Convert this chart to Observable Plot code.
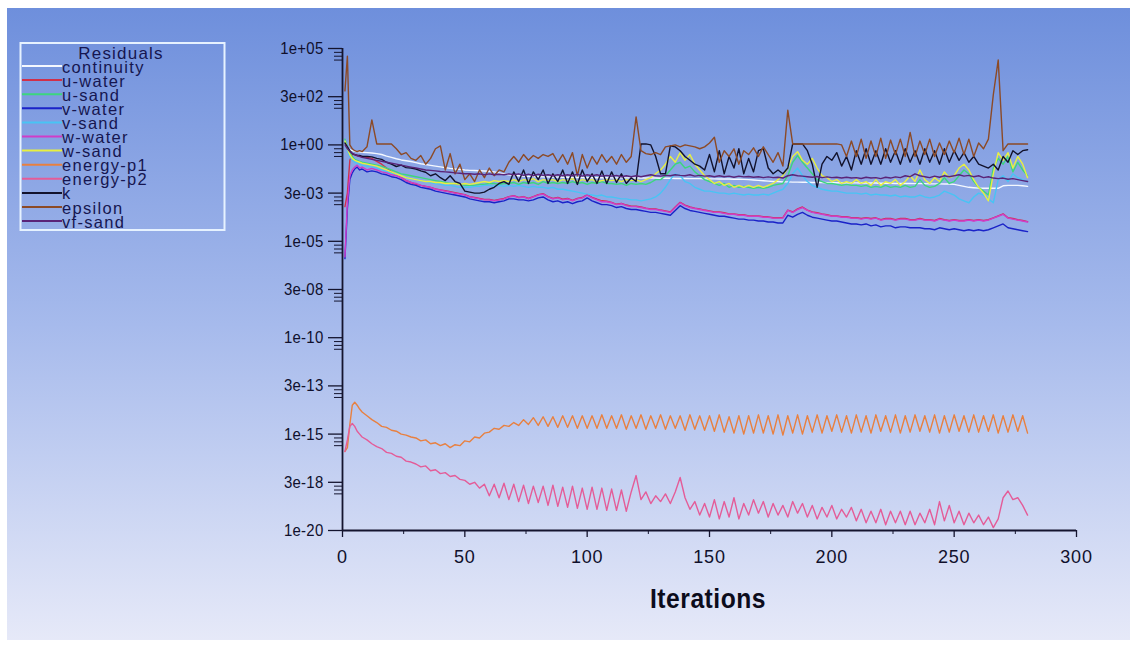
<!DOCTYPE html>
<html><head><meta charset="utf-8">
<script src="https://cdn.jsdelivr.net/npm/d3@7"></script>
<script src="https://cdn.jsdelivr.net/npm/@observablehq/plot@0.6"></script>
<style>
html,body{margin:0;padding:0;background:#fff;}
#page{position:relative;width:1137px;height:646px;overflow:hidden;background:#fff;}
#panel{position:absolute;left:7px;top:8px;width:1123px;height:632px;
  background:linear-gradient(to bottom,#6e8fdc 0%,#a6baec 50%,#e6e9f8 100%);}
#chart{position:absolute;left:0;top:0;}
#overlay{position:absolute;left:0;top:0;}
#chart g[aria-label="y-axis tick label"] text{font-family:"Liberation Sans",Arial,sans-serif;font-size:17px;letter-spacing:0.3px;fill:#10102c;}
#chart g[aria-label="x-axis tick label"] text{font-family:"Liberation Sans",Arial,sans-serif;font-size:18px;letter-spacing:0.8px;fill:#10102c;}
</style>
</head><body>
<div id="page"><div id="panel"></div><div id="chart"></div><svg id="overlay" width="1137" height="646"></svg></div>
<script>
// ---- iterations (x categories) ----
const iterations = [1,2,3,4,5,6,7,8].concat(d3.range(10, 281, 2));

// ---- series names / colours (legend order) ----
const seriesNames = ["continuity","u-water","u-sand","v-water","v-sand","w-water","w-sand","energy-p1","energy-p2","k","epsilon","vf-sand"];
const seriesColors = ["#f4f8ff","#d0304a","#3cd67e","#1a22c8","#48c4f4","#d03cc8","#e8f040","#e88040","#e45c98","#12122c","#8c4a26","#5a2478"];

// ---- residuals, as log10 exponents, per iteration ----
const continuity = [0.0,-0.15,-0.25,-0.3,-0.33,-0.35,-0.36,-0.38,
 -0.4,-0.42,-0.45,-0.5,-0.58,-0.65,-0.72,-0.78,-0.82,-0.86,
 -0.92,-0.98,-1.02,-1.06,-1.1,-1.14,-1.18,-1.22,-1.25,-1.27,
 -1.3,-1.32,-1.33,-1.34,-1.35,-1.37,-1.4,-1.45,-1.5,-1.55,
 -1.58,-1.6,-1.62,-1.63,-1.64,-1.65,-1.66,-1.66,-1.67,-1.67,
 -1.68,-1.68,-1.68,-1.69,-1.69,-1.7,-1.7,-1.7,-1.7,-1.7,
 -1.71,-1.71,-1.71,-1.71,-1.71,-1.72,-1.72,-1.72,-1.72,-1.72,
 -1.73,-1.73,-1.73,-1.74,-1.74,-1.74,-1.75,-1.75,-1.75,-1.76,
 -1.76,-1.76,-1.77,-1.77,-1.77,-1.78,-1.78,-1.79,-1.8,-1.82,
 -1.84,-1.86,-1.88,-1.9,-1.9,-1.92,-1.92,-1.93,-1.93,-1.94,
 -1.94,-1.95,-1.95,-1.95,-1.96,-1.96,-1.96,-1.97,-1.97,-1.97,
 -1.97,-1.98,-1.98,-1.98,-1.98,-1.99,-1.99,-1.99,-2.0,-2.0,
 -2.0,-2.0,-2.01,-2.01,-2.01,-2.02,-2.02,-2.02,-2.03,-2.03,
 -2.05,-2.1,-2.15,-2.2,-2.22,-2.24,-2.25,-2.25,-2.25,-2.25,
 -2.12,-2.1,-2.1,-2.1,-2.12,-2.15];

const uWater = [-3.2,-2.5,-0.8,-0.5,-0.5,-0.55,-0.6,-0.6,
 -0.65,-0.7,-0.85,-1.0,-1.2,-1.4,-1.55,-1.7,-1.85,-1.95,
 -2.05,-2.1,-2.15,-2.2,-2.28,-2.33,-2.38,-2.43,-2.48,-2.53,
 -2.58,-2.68,-2.73,-2.78,-2.83,-2.83,-2.88,-2.83,-2.78,-2.68,
 -2.63,-2.72,-2.68,-2.78,-2.68,-2.58,-2.53,-2.68,-2.78,-2.72,
 -2.82,-2.78,-2.88,-2.78,-2.73,-2.58,-2.72,-2.82,-2.9,-2.92,
 -2.98,-3.08,-3.03,-3.12,-3.18,-3.18,-3.22,-3.28,-3.32,-3.32,
 -3.38,-3.42,-3.48,-3.22,-2.98,-3.12,-3.22,-3.28,-3.32,-3.38,
 -3.42,-3.48,-3.48,-3.52,-3.58,-3.58,-3.62,-3.62,-3.68,-3.68,
 -3.68,-3.72,-3.73,-3.78,-3.78,-3.77,-3.38,-3.48,-3.32,-3.22,
 -3.38,-3.48,-3.52,-3.58,-3.62,-3.68,-3.68,-3.72,-3.72,-3.78,
 -3.78,-3.82,-3.78,-3.82,-3.78,-3.88,-3.82,-3.82,-3.88,-3.82,
 -3.82,-3.88,-3.88,-3.82,-3.88,-3.88,-3.92,-3.82,-3.88,-3.92,
 -3.88,-3.92,-3.92,-3.88,-3.92,-3.88,-3.92,-3.88,-3.78,-3.68,
 -3.58,-3.78,-3.82,-3.88,-3.92,-3.98];

const uSand = [0.3,-0.1,-0.4,-0.6,-0.75,-0.8,-0.85,-0.9,
 -0.95,-1.0,-1.05,-1.1,-1.2,-1.3,-1.4,-1.5,-1.55,-1.6,
 -1.65,-1.7,-1.75,-1.8,-1.85,-1.9,-1.95,-2.0,-2.0,-2.05,
 -2.1,-2.1,-2.1,-2.05,-2.05,-2.0,-2.0,-2.05,-2.0,-2.0,
 -1.95,-2.05,-1.95,-2.0,-1.95,-2.05,-1.9,-2.0,-1.95,-2.0,
 -1.95,-2.0,-1.9,-2.0,-1.95,-2.05,-1.95,-2.0,-1.9,-2.0,
 -2.0,-2.05,-2.0,-2.1,-2.0,-2.05,-2.0,-2.05,-1.95,-1.8,
 -1.8,-1.6,-1.3,-1.0,-0.9,-1.2,-1.1,-1.4,-1.6,-1.8,
 -1.9,-2.0,-2.1,-2.0,-2.2,-2.1,-2.2,-2.15,-2.2,-2.25,
 -2.2,-2.25,-2.2,-2.1,-2.05,-2.0,-1.6,-0.9,-0.55,-0.9,
 -1.2,-1.5,-1.8,-1.9,-2.0,-2.0,-2.05,-2.1,-2.05,-2.1,
 -2.1,-2.15,-2.1,-2.2,-2.15,-2.2,-2.1,-2.2,-2.15,-2.2,
 -2.1,-2.2,-2.15,-1.8,-2.1,-2.2,-2.15,-2.0,-1.7,-2.0,
 -1.9,-1.6,-1.3,-1.5,-1.9,-2.2,-2.4,-2.6,-1.2,-0.7,
 -1.0,-0.6,-1.4,-0.9,-1.3,-1.6];

const vWater = [-5.9,-3.3,-1.8,-1.45,-1.25,-1.15,-1.3,-1.25,
 -1.4,-1.35,-1.4,-1.5,-1.55,-1.65,-1.7,-1.8,-1.95,-2.05,
 -2.1,-2.2,-2.25,-2.3,-2.4,-2.45,-2.5,-2.55,-2.6,-2.65,
 -2.7,-2.8,-2.85,-2.9,-2.95,-2.95,-3.0,-2.95,-2.9,-2.8,
 -2.8,-2.85,-2.85,-2.9,-2.85,-2.75,-2.7,-2.85,-2.95,-2.9,
 -3.0,-2.95,-3.05,-2.95,-2.9,-2.75,-2.9,-3.0,-3.1,-3.1,
 -3.15,-3.25,-3.2,-3.3,-3.35,-3.35,-3.4,-3.45,-3.5,-3.5,
 -3.55,-3.6,-3.65,-3.4,-3.15,-3.3,-3.4,-3.45,-3.5,-3.55,
 -3.6,-3.65,-3.7,-3.7,-3.75,-3.8,-3.85,-3.85,-3.9,-3.9,
 -3.95,-3.95,-4.0,-4.0,-4.05,-4.05,-3.65,-3.75,-3.6,-3.5,
 -3.65,-3.75,-3.8,-3.85,-3.9,-3.95,-3.95,-4.0,-4.05,-4.1,
 -4.1,-4.15,-4.1,-4.2,-4.15,-4.25,-4.2,-4.2,-4.3,-4.25,
 -4.25,-4.3,-4.3,-4.3,-4.35,-4.35,-4.4,-4.3,-4.35,-4.4,
 -4.35,-4.4,-4.45,-4.4,-4.45,-4.4,-4.45,-4.4,-4.3,-4.2,
 -4.1,-4.3,-4.35,-4.4,-4.45,-4.5];

const vSand = [0.2,-0.3,-0.6,-0.8,-0.9,-0.95,-1.0,-1.05,
 -1.1,-1.15,-1.2,-1.3,-1.4,-1.45,-1.55,-1.6,-1.7,-1.75,
 -1.8,-1.85,-1.9,-1.95,-2.0,-2.05,-2.1,-2.1,-2.15,-2.2,
 -2.2,-2.2,-2.15,-2.15,-2.1,-2.1,-2.15,-2.1,-2.15,-2.1,
 -2.15,-2.1,-2.15,-2.2,-2.15,-2.2,-2.2,-2.25,-2.2,-2.3,
 -2.3,-2.35,-2.4,-2.45,-2.5,-2.55,-2.6,-2.65,-2.6,-2.7,
 -2.7,-2.75,-2.8,-2.8,-2.85,-2.85,-2.9,-2.85,-2.8,-2.7,
 -2.5,-2.2,-1.8,-1.5,-1.6,-1.9,-2.0,-2.2,-2.3,-2.4,
 -2.4,-2.45,-2.5,-2.5,-2.55,-2.5,-2.55,-2.6,-2.55,-2.6,
 -2.6,-2.55,-2.6,-2.5,-2.4,-2.3,-2.0,-1.5,-1.2,-1.6,
 -1.9,-2.1,-2.2,-2.3,-2.35,-2.4,-2.4,-2.45,-2.5,-2.5,
 -2.5,-2.55,-2.5,-2.6,-2.55,-2.6,-2.6,-2.65,-2.6,-2.7,
 -2.65,-2.7,-2.7,-2.6,-2.7,-2.75,-2.7,-2.6,-2.4,-2.5,
 -2.6,-2.8,-2.9,-3.0,-2.7,-2.5,-2.6,-2.8,-3.0,-1.8,
 -1.6,-1.9,-1.5,-1.7,-1.8,-1.9];

const wWater = [-5.8,-3.0,-1.6,-1.3,-1.15,-1.05,-1.2,-1.15,
 -1.3,-1.22,-1.3,-1.4,-1.45,-1.55,-1.6,-1.7,-1.85,-1.95,
 -2.0,-2.1,-2.15,-2.2,-2.3,-2.35,-2.4,-2.45,-2.5,-2.55,
 -2.6,-2.7,-2.75,-2.8,-2.85,-2.85,-2.9,-2.85,-2.8,-2.7,
 -2.65,-2.75,-2.7,-2.8,-2.7,-2.6,-2.55,-2.7,-2.8,-2.75,
 -2.85,-2.8,-2.9,-2.8,-2.75,-2.6,-2.75,-2.85,-2.95,-2.95,
 -3.0,-3.1,-3.05,-3.15,-3.2,-3.2,-3.25,-3.3,-3.35,-3.35,
 -3.4,-3.45,-3.5,-3.25,-3.0,-3.15,-3.25,-3.3,-3.35,-3.4,
 -3.45,-3.5,-3.5,-3.55,-3.6,-3.6,-3.65,-3.65,-3.7,-3.7,
 -3.7,-3.75,-3.75,-3.8,-3.8,-3.8,-3.4,-3.5,-3.35,-3.25,
 -3.4,-3.5,-3.55,-3.6,-3.65,-3.7,-3.7,-3.75,-3.75,-3.8,
 -3.8,-3.85,-3.8,-3.85,-3.8,-3.9,-3.85,-3.85,-3.9,-3.85,
 -3.85,-3.9,-3.9,-3.85,-3.9,-3.9,-3.95,-3.85,-3.9,-3.95,
 -3.9,-3.95,-3.95,-3.9,-3.95,-3.9,-3.95,-3.9,-3.8,-3.7,
 -3.6,-3.8,-3.85,-3.9,-3.95,-4.0];

const wSand = [0.2,-0.2,-0.5,-0.7,-0.8,-0.85,-0.9,-0.95,
 -1.0,-1.05,-1.1,-1.2,-1.3,-1.4,-1.5,-1.6,-1.7,-1.75,
 -1.8,-1.85,-1.9,-1.9,-1.95,-1.95,-2.0,-2.0,-2.0,-2.05,
 -2.0,-2.05,-2.0,-1.95,-1.9,-1.95,-1.85,-1.9,-1.85,-1.9,
 -1.8,-1.9,-1.8,-1.85,-1.75,-1.9,-1.8,-1.85,-1.8,-1.9,
 -1.8,-1.85,-1.75,-1.9,-1.8,-1.85,-1.8,-1.9,-1.85,-1.8,
 -1.85,-1.8,-1.9,-1.8,-1.85,-1.8,-1.9,-1.8,-1.7,-1.5,
 -1.3,-1.0,-0.6,-0.9,-0.4,-0.8,-0.5,-1.0,-1.3,-1.6,
 -1.8,-2.0,-1.9,-2.1,-2.0,-2.2,-2.1,-2.2,-2.1,-2.2,
 -2.1,-2.2,-2.1,-2.0,-1.8,-1.6,-1.2,-0.6,-0.35,-0.8,
 -1.0,-0.7,-1.2,-1.6,-1.7,-1.9,-1.8,-2.0,-1.9,-2.0,
 -1.8,-2.0,-1.9,-2.1,-1.8,-2.1,-1.9,-2.0,-1.8,-2.1,
 -1.9,-1.6,-1.9,-1.3,-1.8,-2.0,-1.7,-1.9,-1.4,-1.7,
 -1.6,-1.2,-1.0,-1.3,-1.8,-2.2,-2.5,-2.9,-1.5,-0.4,
 -0.8,-0.4,-1.2,-0.6,-1.0,-1.7];

const energyP1 = [-15.9,-15.7,-14.5,-13.5,-13.35,-13.5,-13.7,-13.85,
 -14.05,-14.25,-14.4,-14.6,-14.65,-14.8,-14.85,-15.0,-15.05,-15.15,
 -15.2,-15.35,-15.3,-15.5,-15.45,-15.6,-15.5,-15.7,-15.55,-15.6,
 -15.35,-15.4,-15.15,-15.2,-14.95,-14.9,-14.7,-14.75,-14.55,-14.6,
 -14.4,-14.55,-14.25,-14.5,-14.15,-14.55,-14.1,-14.6,-14.1,-14.65,
 -14.05,-14.65,-14.05,-14.7,-14.05,-14.7,-14.05,-14.7,-14.0,-14.7,
 -14.05,-14.7,-14.0,-14.75,-14.05,-14.7,-14.0,-14.75,-14.05,-14.7,
 -14.0,-14.75,-14.05,-14.7,-14.05,-14.8,-14.0,-14.75,-14.05,-14.8,
 -14.05,-14.85,-14.0,-14.9,-14.1,-14.95,-14.05,-15.0,-14.05,-14.95,
 -14.0,-14.95,-14.05,-15.0,-14.0,-15.05,-14.05,-14.95,-14.0,-15.0,
 -14.05,-14.9,-14.0,-14.95,-14.05,-14.85,-14.0,-14.9,-14.05,-14.95,
 -14.0,-14.9,-14.05,-14.95,-14.0,-14.85,-14.05,-14.9,-14.0,-14.95,
 -14.05,-14.9,-14.0,-14.85,-14.05,-14.9,-14.0,-14.95,-14.05,-14.9,
 -14.0,-14.85,-14.05,-14.9,-14.0,-14.9,-14.05,-14.85,-14.0,-14.95,
 -14.05,-14.9,-14.0,-14.85,-14.05,-14.95];

const energyP2 = [-15.9,-15.3,-14.6,-14.45,-14.6,-14.85,-15.0,-15.15,
 -15.3,-15.5,-15.65,-15.75,-15.95,-16.0,-16.15,-16.2,-16.4,-16.45,
 -16.55,-16.7,-16.65,-16.9,-16.85,-17.05,-17.0,-17.2,-17.15,-17.35,
 -17.4,-17.6,-17.5,-17.8,-17.6,-18.2,-17.6,-18.3,-17.55,-18.4,
 -17.6,-18.5,-17.65,-18.6,-17.7,-18.55,-17.7,-18.7,-17.65,-18.75,
 -17.75,-18.8,-17.7,-18.85,-17.8,-18.9,-17.75,-18.9,-17.8,-18.95,
 -17.85,-18.95,-17.9,-19.0,-18.0,-17.15,-18.4,-18.0,-18.6,-18.2,
 -18.5,-18.1,-18.6,-18.0,-17.25,-18.3,-18.9,-18.5,-19.2,-18.6,
 -19.3,-18.4,-19.4,-18.5,-19.3,-18.3,-19.4,-18.6,-19.2,-18.4,
 -19.1,-18.5,-19.3,-18.6,-19.2,-18.7,-19.3,-18.5,-19.1,-18.6,
 -19.3,-18.7,-19.4,-18.8,-19.3,-18.7,-19.4,-18.9,-19.3,-18.8,
 -19.5,-18.9,-19.6,-19.0,-19.6,-18.9,-19.7,-19.0,-19.6,-19.0,
 -19.7,-19.0,-19.7,-19.1,-19.6,-18.9,-19.7,-18.5,-19.5,-18.7,
 -19.6,-19.0,-19.7,-19.1,-19.6,-19.2,-19.7,-19.3,-19.85,-19.4,
 -18.3,-17.95,-18.4,-18.3,-18.7,-19.2];

const kRes = [0.1,-0.1,-0.3,-0.45,-0.5,-0.55,-0.55,-0.6,
 -0.6,-0.62,-0.7,-0.75,-0.9,-1.0,-1.12,-1.05,-1.18,-1.2,
 -1.25,-1.35,-1.42,-1.6,-1.5,-1.7,-1.85,-1.6,-1.9,-2.0,
 -2.4,-2.45,-2.5,-2.5,-2.45,-2.3,-2.2,-2.0,-1.9,-2.05,
 -1.4,-1.9,-1.3,-2.0,-1.4,-1.8,-1.3,-2.0,-1.5,-1.9,
 -1.3,-2.0,-1.4,-2.05,-1.3,-1.9,-1.5,-2.0,-1.35,-2.0,
 -1.4,-1.95,-1.5,-2.0,-1.7,-1.9,0.05,0.05,0.0,-0.6,
 -1.5,-1.5,-0.05,-0.1,-0.3,-0.6,-0.8,-1.0,-1.1,-1.3,
 -0.5,-1.4,-0.3,-1.5,-0.6,-1.2,-0.2,-1.5,-0.7,-1.4,
 -0.3,-0.2,-1.2,-1.5,-1.3,-1.5,-1.2,0.05,0.05,0.05,
 -0.3,-1.0,-2.2,-1.0,-0.6,-0.8,-0.4,-1.1,-0.6,-1.3,
 -0.3,-1.0,-0.2,-1.0,-0.3,-1.0,-0.2,-0.9,-0.3,-1.0,
 -0.2,-0.9,-0.3,-1.0,-0.2,-0.9,-0.3,-1.0,-0.2,-0.9,
 -0.3,-0.8,-0.4,-0.9,-0.6,-1.0,-1.1,-1.2,-1.0,-1.3,
 -0.6,-0.9,-0.3,-0.5,-0.3,-0.25];

const epsilon = [2.8,4.6,0.0,-0.2,-0.3,-0.35,-0.3,-0.35,
 -0.1,1.3,0.05,0.05,0.05,0.05,-0.2,-0.5,-0.4,-0.7,
 -0.8,-0.55,-1.0,-0.7,-0.2,-0.05,-1.3,-0.45,-1.5,-1.0,
 -1.8,-1.5,-1.9,-1.3,-1.7,-1.2,-1.6,-1.3,-1.4,-0.9,
 -0.6,-0.9,-0.5,-0.8,-0.55,-0.7,-0.5,-0.6,-0.45,-0.9,
 -0.5,-1.0,-0.4,-1.6,-0.5,-1.2,-0.6,-1.0,-0.5,-0.9,
 -0.6,-1.0,-0.5,-0.9,-0.6,1.45,-0.3,-0.45,-0.5,-0.4,
 -0.5,-0.1,-0.05,0.0,-0.1,0.0,-0.05,-0.1,-0.2,-0.1,
 0.1,0.4,-0.9,-0.3,-0.6,-0.2,-1.0,-0.3,-0.5,-0.15,
 -0.6,-0.1,-0.5,-0.9,-0.4,-1.1,1.8,0.05,0.05,0.05,
 0.05,0.05,0.05,0.05,0.05,0.05,0.05,0.0,-0.6,0.2,
 -0.6,0.3,-0.7,0.2,-0.6,0.35,-0.7,0.25,-0.5,0.3,
 -0.6,0.65,-0.6,0.2,-0.5,0.3,-0.6,0.1,-0.5,0.2,
 -0.4,0.35,-0.5,0.3,-0.6,0.1,-0.2,0.3,2.6,4.4,
 -0.3,0.05,0.05,0.05,0.05,0.05];

const vfSand = [0.0,-0.2,-0.35,-0.45,-0.5,-0.55,-0.6,-0.65,
 -0.7,-0.75,-0.8,-0.85,-0.9,-0.95,-1.0,-1.05,-1.1,-1.15,
 -1.2,-1.25,-1.3,-1.32,-1.35,-1.38,-1.4,-1.42,-1.45,-1.47,
 -1.5,-1.5,-1.52,-1.5,-1.55,-1.5,-1.55,-1.52,-1.55,-1.5,
 -1.55,-1.5,-1.58,-1.52,-1.6,-1.52,-1.58,-1.55,-1.6,-1.55,
 -1.6,-1.55,-1.6,-1.52,-1.62,-1.55,-1.6,-1.55,-1.62,-1.58,
 -1.62,-1.58,-1.65,-1.6,-1.65,-1.6,-1.65,-1.6,-1.55,-1.6,
 -1.62,-1.58,-1.6,-1.55,-1.58,-1.6,-1.55,-1.62,-1.58,-1.62,
 -1.6,-1.65,-1.6,-1.65,-1.62,-1.68,-1.62,-1.66,-1.64,-1.68,
 -1.65,-1.7,-1.66,-1.7,-1.68,-1.72,-1.6,-1.55,-1.6,-1.62,
 -1.65,-1.68,-1.64,-1.7,-1.66,-1.7,-1.68,-1.72,-1.68,-1.72,
 -1.7,-1.74,-1.68,-1.72,-1.7,-1.75,-1.68,-1.72,-1.66,-1.7,
 -1.6,-1.65,-1.5,-1.6,-1.65,-1.7,-1.62,-1.68,-1.6,-1.65,
 -1.6,-1.55,-1.62,-1.58,-1.65,-1.6,-1.7,-1.65,-1.72,-1.75,
 -1.72,-1.78,-1.75,-1.8,-1.85,-1.9];

// ---- axis ticks ----
const xTicks = [0, 50, 100, 150, 200, 250, 300];
const xMinorTicks = [25, 75, 125, 175, 225, 275];
const yTickValues = [1e5, 316.23, 1, 3.1623e-3, 1e-5, 3.1623e-8, 1e-10, 3.1623e-13, 1e-15, 3.1623e-18, 1e-20];
const yTickLabels = ["1e+05","3e+02","1e+00","3e-03","1e-05","3e-08","1e-10","3e-13","1e-15","3e-18","1e-20"];

// ---- build table ----
const logResiduals = [continuity,uWater,uSand,vWater,vSand,wWater,wSand,energyP1,energyP2,kRes,epsilon,vfSand];
const rows = [];
seriesNames.forEach((name, s) => {
  logResiduals[s].forEach((e, i) => {
    if (i < iterations.length && e != null) rows.push({series: name, it: iterations[i], r: Math.pow(10, e)});
  });
});

const yMinor = [];
yTickValues.slice(0, -1).forEach(v => { for (const k of [1,2,3]) yMinor.push(v * Math.pow(10, -0.2 * k)); });
const fmtY = d => {
  const i = yTickValues.findIndex(v => Math.abs(Math.log10(v) - Math.log10(d)) < 0.01);
  return i >= 0 ? yTickLabels[i] : "";
};

const axisColor = "#14142e";
const chart = Plot.plot({
  width: 1137, height: 646,
  marginLeft: 342, marginRight: 61, marginTop: 48, marginBottom: 116,
  style: {background: "transparent", color: axisColor, overflow: "visible"},
  x: {domain: [0, 300]},
  y: {type: "log", domain: [1e-20, 1e5]},
  color: {domain: seriesNames, range: seriesColors},
  marks: [
    Plot.line(rows, {x: "it", y: "r", z: "series", stroke: "series", strokeWidth: 1.4, curve: "linear"}),
    Plot.axisY(yTickValues, {tickSize: 14, tickPadding: 5, tickFormat: fmtY, strokeWidth: 1.3, label: null}),
    Plot.axisY(yMinor, {tickSize: 8, tickFormat: () => "", strokeWidth: 1, label: null}),
    Plot.axisX(xTicks, {tickSize: 7, tickPadding: 13, strokeWidth: 1.3, label: null}),
    Plot.axisX(xMinorTicks, {tickSize: 4, tickFormat: () => "", strokeWidth: 1, label: null}),
    Plot.ruleX([0], {stroke: axisColor, strokeWidth: 1.8}),
    Plot.ruleY([1e-20], {stroke: axisColor, strokeWidth: 1.8})
  ]
});
document.getElementById("chart").appendChild(chart);

// narrow the y tick labels horizontally (condensed look); keep the vertical placement untouched
d3.select(chart).selectAll('g[aria-label="y-axis tick label"] text').each(function() {
  const t = this.getAttribute("transform") || "";
  const xa = this.getAttribute("x");
  const x = xa != null && isFinite(parseFloat(xa)) && !/em/.test(xa) ? parseFloat(xa) : null;
  if (x != null) this.removeAttribute("x");
  this.setAttribute("transform", `${t} translate(${x != null ? x : 0},0) scale(0.88,1)`);
});

// ---- legend and x title ----
const SANS = '"Liberation Sans",Arial,sans-serif';
const ov = d3.select("#overlay");
ov.append("rect").attr("x", 20.5).attr("y", 43).attr("width", 204).attr("height", 187)
  .attr("fill", "none").attr("stroke", "#e6f2ff").attr("stroke-width", 2);
ov.append("text").attr("x", 121).attr("y", 58.5).attr("text-anchor", "middle")
  .style("font-family", SANS).style("font-size", "17px").style("letter-spacing", "1.2px")
  .attr("fill", "#161650").text("Residuals");
seriesNames.forEach((name, i) => {
  const yb = 72.5 + 14.1 * i;
  ov.append("line").attr("x1", 22).attr("x2", 62).attr("y1", yb - 6.5).attr("y2", yb - 6.5)
    .attr("stroke", seriesColors[i]).attr("stroke-width", 2);
  ov.append("text").attr("x", 62).attr("y", yb)
    .style("font-family", SANS).style("font-size", "16.5px").style("letter-spacing", "1.3px")
    .attr("fill", "#161650").text(name);
});
ov.append("text").attr("transform", "translate(708,608) scale(0.88,1)").attr("text-anchor", "middle")
  .style("font-family", SANS).style("font-size", "28px").style("font-weight", "bold")
  .style("letter-spacing", "0.6px").attr("fill", "#0c0c1c").text("Iterations");
</script>
</body></html>
